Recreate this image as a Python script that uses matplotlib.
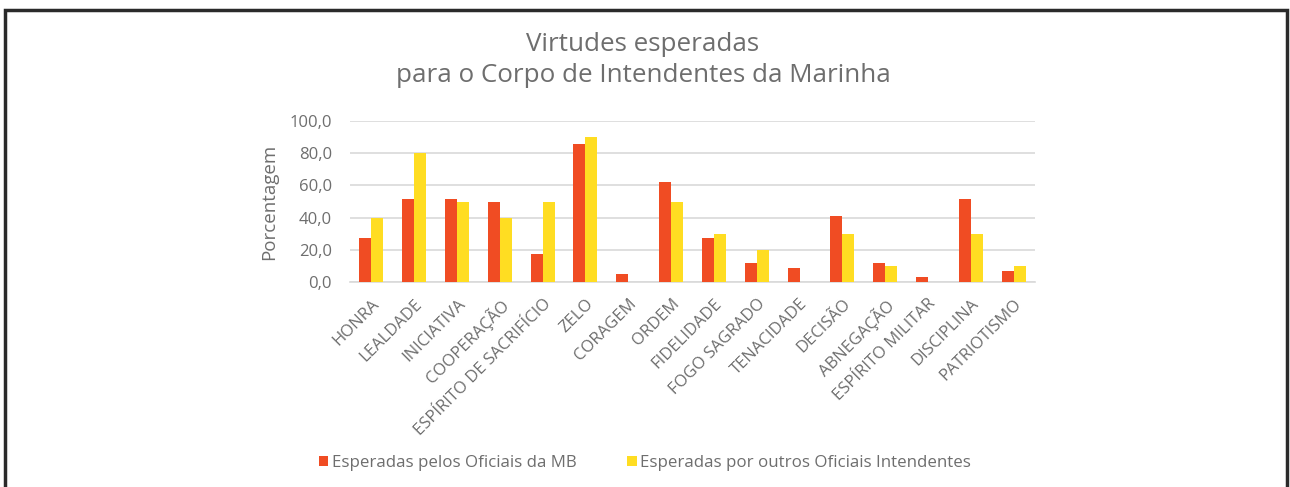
import matplotlib
matplotlib.use("Agg")
import matplotlib.pyplot as plt
import numpy as np
from matplotlib.patches import Rectangle
from matplotlib.ticker import FuncFormatter

plt.rcParams['font.family'] = ['Open Sans', 'DejaVu Sans']

categories = ["HONRA", "LEALDADE", "INICIATIVA", "COOPERAÇÃO", "ESPÍRITO DE SACRIFÍCIO",
              "ZELO", "CORAGEM", "ORDEM", "FIDELIDADE", "FOGO SAGRADO", "TENACIDADE",
              "DECISÃO", "ABNEGAÇÃO", "ESPÍRITO MILITAR", "DISCIPLINA", "PATRIOTISMO"]
oficiais_mb = [27.5, 51.5, 51.5, 50.0, 17.2, 86.0, 5.2, 62.0, 27.5, 11.8, 8.5,
               41.2, 11.8, 3.3, 51.5, 6.8]
outros_intendentes = [40.0, 80.0, 50.0, 40.0, 50.0, 90.0, 0.0, 50.0, 30.0, 20.0, 0.0,
                      30.0, 10.0, 0.0, 30.0, 10.0]
series_labels = ["Esperadas pelos Oficiais da MB", "Esperadas por outros Oficiais Intendentes"]
title = "Virtudes esperadas\npara o Corpo de Intendentes da Marinha"
ylabel = "Porcentagem"

RED = "#F04C23"
YEL = "#FFDD22"
GRAY = "#6E6E6E"
GRID = "#D9D9D9"

W, H = 1290, 487
fig = plt.figure(figsize=(W / 100, H / 100), dpi=100)
ax = fig.add_axes([350 / W, 1 - 282 / H, (1035 - 350) / W, (282 - 121) / H])

x = np.arange(len(categories))
bw = 0.28
ax.bar(x - bw / 2, oficiais_mb, bw, color=RED, label=series_labels[0], zorder=3)
ax.bar(x + bw / 2, outros_intendentes, bw, color=YEL, label=series_labels[1], zorder=3)

ax.set_xlim(-0.5, len(categories) - 0.5)
ax.set_ylim(0, 100)
ax.set_yticks(np.arange(0, 101, 20))
ax.yaxis.set_major_formatter(FuncFormatter(lambda v, p: f"{v:.1f}".replace(".", ",")))
ax.grid(axis='y', color=GRID, linewidth=1.2, zorder=0)
ax.set_axisbelow(True)
for s in ['top', 'right', 'left']:
    ax.spines[s].set_visible(False)
ax.spines['bottom'].set_color(GRID)
ax.spines['bottom'].set_linewidth(1.2)
ax.tick_params(axis='both', length=0, colors=GRAY)
ax.tick_params(axis='y', pad=13, labelsize=12)
ax.set_xticks(x)
ax.set_xticklabels(categories, rotation=45, ha='right', rotation_mode='anchor', fontsize=12)
ax.tick_params(axis='x', pad=10)
ax.set_ylabel(ylabel, color=GRAY, fontsize=13.5, labelpad=8)

fig.text(643 / W, 1 - 60 / H, title, ha='center', va='center', fontsize=18.7,
         color=GRAY, linespacing=1.35)

leg = fig.legend(loc='center', bbox_to_anchor=(645 / W, 1 - 463 / H), ncol=2,
                 frameon=False, fontsize=12.2, handlelength=0.55, handleheight=0.55,
                 handletextpad=0.2, columnspacing=3.0)
for t in leg.get_texts():
    t.set_color(GRAY)

fig.patches.append(Rectangle((5 / W, -0.1), (1287 - 5) / W, 1.1 - 10 / H,
                             transform=fig.transFigure, fill=False,
                             edgecolor="#2A2A2A", linewidth=2.5))

fig.savefig("out.png", dpi=100)
